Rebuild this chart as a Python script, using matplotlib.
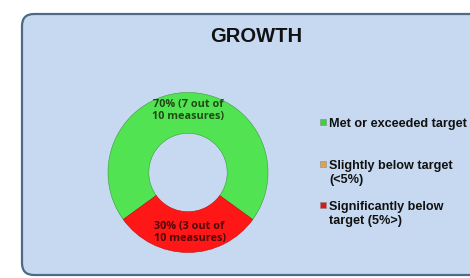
import matplotlib
matplotlib.use("Agg")
import matplotlib.pyplot as plt
from matplotlib.patches import FancyBboxPatch, Rectangle

title = "GROWTH"
categories = ["Met or exceeded target", "Slightly below target\n(<5%)", "Significantly below\ntarget (5%>)"]
values = [70, 0, 30]
slice_labels = ["70% (7 out of\n10 measures)", "", "30% (3 out of\n10 measures)"]
colors = ["#52e352", "#e8a456", "#ff1717"]
marker_colors = ["#3fcf3f", "#e0a050", "#e01515"]

W, H = 470, 278
fig = plt.figure(figsize=(W / 100, H / 100), dpi=100)
fig.patch.set_facecolor("white")

bg = fig.add_axes([0, 0, 1, 1])
bg.set_xlim(0, W)
bg.set_ylim(H, 0)
bg.axis("off")
panel = FancyBboxPatch((22, 14), 470, 261, boxstyle="round,pad=0,rounding_size=12",
                       facecolor="#c6d9f0", edgecolor="#4d6a88", linewidth=1.6)
bg.add_patch(panel)
bg.text(256, 37, title, ha="center", va="center", fontsize=14.5, fontweight="bold",
        family="Liberation Sans", color="#111111")

# legend drawn manually
leg_y = [122.5, 164, 205]
for cat, mc, y in zip(categories, marker_colors, leg_y):
    bg.add_patch(Rectangle((320, y - 3.5), 6, 6, facecolor=mc, edgecolor="#8a8a8a", linewidth=0.4))
    bg.text(329, y - 4, cat, ha="left", va="top", fontsize=9.1, fontweight="bold",
            family="Liberation Sans", color="#111111", linespacing=1.25)

# donut
cx, cy, R = 188, 172.5, 84
size = 200
ax = fig.add_axes([(cx - size / 2) / W, (H - cy - size / 2) / H, size / W, size / H])
ax.set_xlim(-size / 2 / R, size / 2 / R)
ax.set_ylim(-size / 2 / R, size / 2 / R)
ax.axis("off")
wedges, _ = ax.pie(values, colors=colors, startangle=-36, radius=1.0,
                   wedgeprops=dict(width=0.51, edgecolor="#3a9a3a", linewidth=0.4))
wedges[2].set_edgecolor("#c01010")

ax.text(0, (cy - 107.5) / R, slice_labels[0], ha="center", va="center", fontsize=7.8,
        fontweight="bold", family="Open Sans", color="#1f4a16", linespacing=1.2)
ax.text(0.02, (cy - 235.5) / R, slice_labels[2], ha="center", va="center", fontsize=7.8,
        fontweight="bold", family="Open Sans", color="#4a0a0a", linespacing=1.2)

fig.savefig("out.png", dpi=100, facecolor="white")
